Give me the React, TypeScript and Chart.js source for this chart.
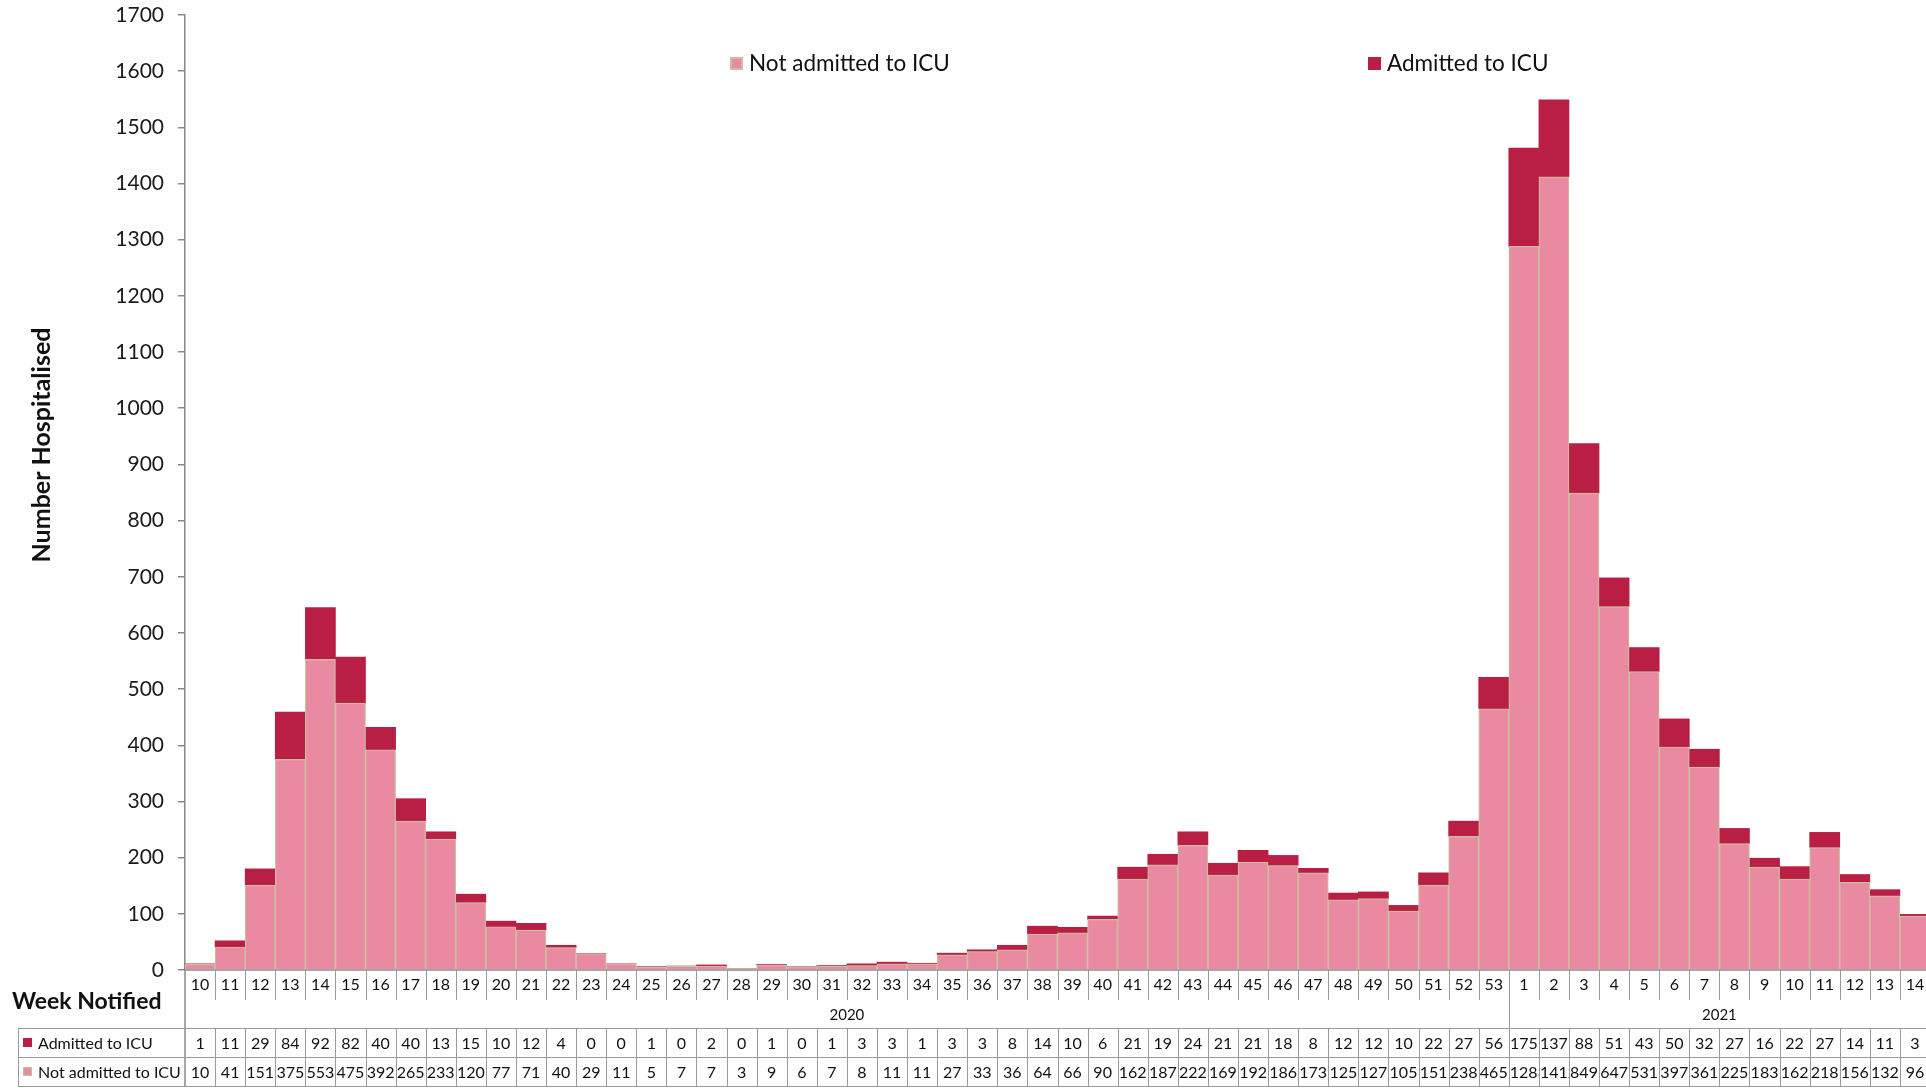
import React, { useEffect, useRef } from "react";
import { Chart, registerables } from "chart.js";

Chart.register(...registerables);

const weeks2020 = [
  "10", "11", "12", "13", "14", "15", "16", "17", "18", "19", "20", "21", "22", "23", "24", "25",
  "26", "27", "28", "29", "30", "31", "32", "33", "34", "35", "36", "37", "38", "39", "40", "41",
  "42", "43", "44", "45", "46", "47", "48", "49", "50", "51", "52", "53",
];
const weeks2021 = ["1", "2", "3", "4", "5", "6", "7", "8", "9", "10", "11", "12", "13", "14"];
const years = ["2020", "2021"];

const admittedICU = [
  1, 11, 29, 84, 92, 82, 40, 40, 13, 15, 10, 12, 4, 0, 0, 1,
  0, 2, 0, 1, 0, 1, 3, 3, 1, 3, 3, 8, 14, 10, 6, 21, 19, 24, 21, 21, 18,
  8, 12, 12, 10, 22, 27, 56,
  175, 137, 88, 51, 43, 50, 32, 27, 16, 22, 27, 14, 11, 3,
];
const notAdmittedICU = [
  10, 41, 151, 375, 553, 475, 392, 265, 233, 120, 77, 71, 40, 29, 11, 5,
  7, 7, 3, 9, 6, 7, 8, 11, 11, 27, 33, 36, 64, 66, 90, 162, 187, 222, 169, 192, 186,
  173, 125, 127, 105, 151, 238, 465,
  1288, 1412, 849, 647, 531, 397, 361, 225, 183, 162, 218, 156, 132, 96,
];

const seriesNames = ["Not admitted to ICU", "Admitted to ICU"];
const yMax = 1700;
const yStep = 100;
const yTitle = "Number Hospitalised";
const xTitle = "Week Notified";

const PINK = "#E98AA2";
const PINK_BORDER = "#C9BF9A";
const CRIMSON = "#B91F45";
const GRID = "#9a9a9a";
const AXIS = "#8a8a8a";
const FONT = "Lato, 'Open Sans', sans-serif";

const labels = [...weeks2020, ...weeks2021];
const yearSpans = [weeks2020.length, weeks2021.length];

const decorPlugin = {
  id: "decor",
  afterDraw(chart: any) {
    const ctx = chart.ctx as CanvasRenderingContext2D;
    const { left, right, bottom } = chart.chartArea;
    const xs = chart.scales.x;
    const n = labels.length;
    const colW = (right - left) / n;
    const bx = (i: number) => xs.getPixelForValue(i) - colW / 2;

    ctx.save();
    // x axis line
    ctx.strokeStyle = AXIS;
    ctx.lineWidth = 1.5;
    ctx.beginPath();
    ctx.moveTo(left, bottom);
    ctx.lineTo(right, bottom);
    ctx.stroke();
    // extend y axis down through the table
    ctx.beginPath();
    ctx.moveTo(left, bottom);
    ctx.lineTo(left, bottom + 117);
    ctx.stroke();

    // week separators
    ctx.strokeStyle = GRID;
    ctx.lineWidth = 1;
    const yearBoundary = weeks2020.length;
    for (let i = 1; i <= n; i++) {
      const x = Math.round(bx(i)) + 0.5;
      ctx.beginPath();
      ctx.moveTo(x, bottom);
      ctx.lineTo(x, bottom + (i === yearBoundary ? 58 : 30));
      ctx.stroke();
    }

    // week labels
    ctx.fillStyle = "#111";
    ctx.font = `16px ${FONT}`;
    ctx.textAlign = "center";
    ctx.textBaseline = "middle";
    for (let i = 0; i < n; i++) {
      ctx.fillText(labels[i], xs.getPixelForValue(i), bottom + 15);
    }
    // year labels
    let start = 0;
    ctx.font = `15px ${FONT}`;
    years.forEach((yr, k) => {
      const end = start + yearSpans[k];
      const cx = (bx(start) + bx(end)) / 2;
      ctx.fillText(yr, cx, bottom + 45);
      start = end;
    });

    // data table
    const tLeft = 18;
    const rows = [bottom + 58, bottom + 87, bottom + 116];
    ctx.strokeStyle = GRID;
    rows.forEach((y) => {
      ctx.beginPath();
      ctx.moveTo(tLeft, Math.round(y) + 0.5);
      ctx.lineTo(right, Math.round(y) + 0.5);
      ctx.stroke();
    });
    ctx.beginPath();
    ctx.moveTo(tLeft + 0.5, rows[0]);
    ctx.lineTo(tLeft + 0.5, rows[2]);
    ctx.stroke();
    for (let i = 1; i <= n; i++) {
      const x = Math.round(bx(i)) + 0.5;
      ctx.beginPath();
      ctx.moveTo(x, rows[0]);
      ctx.lineTo(x, rows[2]);
      ctx.stroke();
    }

    const tableRows = [
      { name: seriesNames[1], values: admittedICU, fill: CRIMSON, stroke: CRIMSON },
      { name: seriesNames[0], values: notAdmittedICU, fill: PINK, stroke: PINK_BORDER },
    ];
    tableRows.forEach((r, k) => {
      const y0 = rows[k];
      const y1 = rows[k + 1];
      const cy = (y0 + y1) / 2;
      ctx.fillStyle = r.stroke;
      ctx.fillRect(23, cy - 4.5, 9, 9);
      ctx.fillStyle = r.fill;
      ctx.fillRect(24, cy - 3.5, 7, 7);
      ctx.fillStyle = "#111";
      ctx.font = `16px ${FONT}`;
      ctx.textAlign = "left";
      ctx.fillText(r.name, 38, cy + 1);
      for (let i = 0; i < n; i++) {
        const x0 = bx(i);
        const w = colW;
        const txt = String(r.values[i]);
        const tw = ctx.measureText(txt).width;
        ctx.save();
        ctx.beginPath();
        ctx.rect(x0 + 1, y0 + 1, w - 1, y1 - y0 - 1);
        ctx.clip();
        if (tw > w - 2) {
          ctx.textAlign = "left";
          ctx.fillText(txt, x0 + 1, cy + 1);
        } else {
          ctx.textAlign = "center";
          ctx.fillText(txt, x0 + w / 2, cy + 1);
        }
        ctx.restore();
      }
    });

    // axis titles
    ctx.fillStyle = "#111";
    ctx.font = `bold 23px ${FONT}`;
    ctx.textAlign = "left";
    ctx.textBaseline = "middle";
    ctx.fillText(xTitle, 12, bottom + 32);
    ctx.save();
    ctx.translate(42, 445);
    ctx.rotate(-Math.PI / 2);
    ctx.textAlign = "center";
    ctx.font = `bold 25px ${FONT}`;
    ctx.fillText(yTitle, 0, 0);
    ctx.restore();

    // legend
    const legendItems = [
      { name: seriesNames[0], x: 730, fill: PINK, stroke: PINK_BORDER },
      { name: seriesNames[1], x: 1368, fill: CRIMSON, stroke: CRIMSON },
    ];
    ctx.font = `22.5px ${FONT}`;
    legendItems.forEach((it) => {
      const cy = 63;
      ctx.fillStyle = it.stroke;
      ctx.fillRect(it.x, cy - 6, 13, 13);
      ctx.fillStyle = it.fill;
      ctx.fillRect(it.x + 2, cy - 4, 9, 9);
      ctx.fillStyle = "#111";
      ctx.textAlign = "left";
      ctx.fillText(it.name, it.x + 19, cy + 1);
    });
    ctx.restore();
  },
};

export default function App() {
  const canvasRef = useRef<HTMLCanvasElement | null>(null);

  useEffect(() => {
    const canvas = canvasRef.current;
    if (!canvas) return;
    const chart = new Chart(canvas, {
      type: "bar",
      data: {
        labels,
        datasets: [
          {
            label: seriesNames[0],
            data: notAdmittedICU,
            backgroundColor: PINK,
            borderColor: PINK_BORDER,
            borderWidth: 1.2,
            stack: "s",
            barPercentage: 1,
            categoryPercentage: 1,
          },
          {
            label: seriesNames[1],
            data: admittedICU,
            backgroundColor: CRIMSON,
            borderColor: CRIMSON,
            borderWidth: 0,
            stack: "s",
            barPercentage: 1,
            categoryPercentage: 1,
          },
        ],
      },
      options: {
        responsive: false,
        animation: false,
        layout: { padding: { left: 0, top: 15, right: 10, bottom: 118 } },
        plugins: { legend: { display: false }, tooltip: { enabled: false } },
        scales: {
          x: { display: false, stacked: true, offset: true },
          y: {
            stacked: true,
            min: 0,
            max: yMax,
            afterFit: (s: any) => {
              s.width = 185;
              s.paddingTop = 0;
              s.paddingBottom = 0;
            },
            ticks: {
              stepSize: yStep,
              color: "#1a1a1a",
              padding: 14,
              font: { family: FONT, size: 21 },
              callback: (v: any) => String(v),
            },
            grid: {
              display: true,
              drawOnChartArea: false,
              drawTicks: true,
              tickLength: 7,
              color: AXIS,
              lineWidth: 1.5,
            },
            border: { display: true, color: AXIS, width: 1.5 },
          },
        },
      },
      plugins: [decorPlugin],
    });
    return () => chart.destroy();
  }, []);

  return (
    <div
      style={{
        position: "fixed",
        left: 0,
        top: 0,
        width: 1926,
        height: 1088,
        overflow: "hidden",
        background: "#fff",
      }}
    >
      <canvas ref={canvasRef} width={1940} height={1088} style={{ display: "block" }} />
    </div>
  );
}
